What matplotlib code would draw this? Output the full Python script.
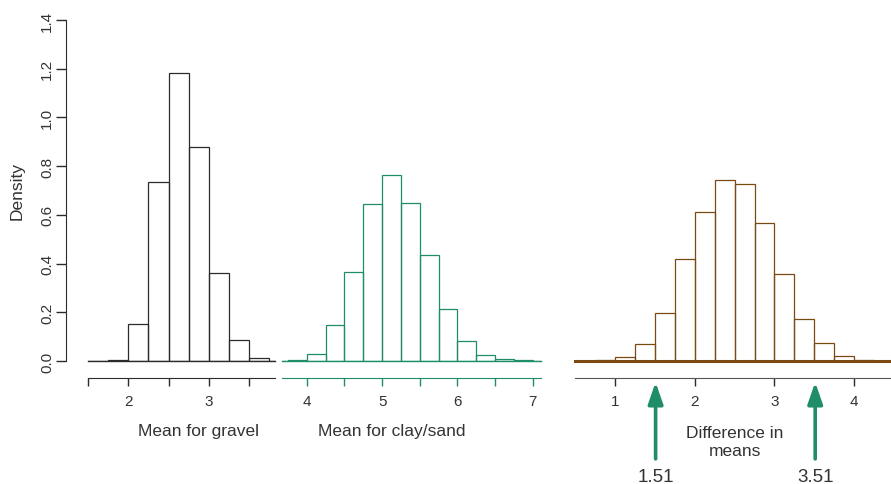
import matplotlib
matplotlib.use("Agg")
import matplotlib.pyplot as plt
import numpy as np

plt.rcParams['font.family'] = ['Liberation Sans', 'DejaVu Sans']

# bootstrap histograms (density), bin width 0.25
bin_width = 0.25

gravel_start = 1.5
gravel_density = [0.002, 0.003, 0.151, 0.734, 1.181, 0.877, 0.363, 0.086, 0.011, 0.002]

clay_start = 3.5
clay_density = [0.001, 0.004, 0.030, 0.147, 0.364, 0.644, 0.762, 0.648, 0.434, 0.212,
                0.084, 0.026, 0.010, 0.003, 0.001]

diff_start = 0.5
diff_density = [0.001, 0.004, 0.018, 0.071, 0.196, 0.418, 0.611, 0.744, 0.727, 0.568,
                0.359, 0.174, 0.075, 0.021, 0.004, 0.001]

gravel_ticks = [1.5, 2, 2.5, 3, 3.5]
gravel_ticklabels = ['', '2', '', '3', '']
clay_ticks = [4, 4.5, 5, 5.5, 6, 6.5, 7]
clay_ticklabels = ['4', '', '5', '', '6', '', '7']
diff_ticks = [1, 2, 3, 4]
ci_bounds = [1.51, 3.51]

black = '#2b2b2b'
green = '#1f8c6a'
brown = '#7a4a12'
text_col = '#333333'

W, H = 891, 485
fig = plt.figure(figsize=(W / 100, H / 100), dpi=100)


def px_axes(x0, x1, y_top=21, y_bot=362):
    return fig.add_axes([x0 / W, (H - y_bot) / H, (x1 - x0) / W, (y_bot - y_top) / H])


ax1 = px_axes(88, 275)
ax2 = px_axes(282, 541)
ax3 = px_axes(575, 891)


def draw_hist(ax, start, dens, color, xlim, base_lw=1.0):
    dens = np.array(dens)
    left = start + bin_width * np.arange(len(dens))
    ax.bar(left, dens, width=bin_width, align='edge', fill=False,
           edgecolor=color, linewidth=0.9, clip_on=True)
    ax.axhline(0, color=color, lw=base_lw, clip_on=False, zorder=3)
    ax.set_xlim(*xlim)
    ax.set_ylim(0, 1.4)
    for s in ['top', 'right', 'left']:
        ax.spines[s].set_visible(False)
    ax.spines['bottom'].set_position(('outward', 12))
    ax.tick_params(axis='x', length=6, width=1, pad=6, labelsize=11, labelcolor=text_col)


draw_hist(ax1, gravel_start, gravel_density, black, (1.5, 3.82))
draw_hist(ax2, clay_start, clay_density, green, (3.67, 7.11))
draw_hist(ax3, diff_start, diff_density, brown, (0.5, 4.46), base_lw=2.2)

# left panel: y axis
ax1.spines['left'].set_visible(True)
ax1.spines['left'].set_position(('outward', 16))
ax1.spines['left'].set_color(black)
ax1.set_yticks(np.arange(0, 1.41, 0.2))
ax1.set_yticklabels([f'{v:.1f}' for v in np.arange(0, 1.41, 0.2)])
ax1.tick_params(axis='y', length=7, width=1, pad=1.5, labelsize=11,
                labelcolor=text_col, labelrotation=90, color=black)
for lab in ax1.get_yticklabels():
    lab.set_verticalalignment('center')
ax1.set_ylabel('Density', fontsize=12.5, color=text_col, labelpad=11)

ax1.spines['bottom'].set_color(black)
ax1.tick_params(axis='x', color=black)
ax1.set_xticks(gravel_ticks)
ax1.set_xticklabels(gravel_ticklabels)

ax2.set_yticks([])
ax2.spines['bottom'].set_color(green)
ax2.tick_params(axis='x', color=green)
ax2.set_xticks(clay_ticks)
ax2.set_xticklabels(clay_ticklabels)

ax3.set_yticks([])
ax3.spines['bottom'].set_color('#555555')
ax3.tick_params(axis='x', color=black)
ax3.set_xticks(diff_ticks)

# axis titles
ax1.text(0.59, -0.205, 'Mean for gravel', transform=ax1.transAxes,
         ha='center', va='center', fontsize=12.5, color=text_col)
ax2.text(0.425, -0.205, 'Mean for clay/sand', transform=ax2.transAxes,
         ha='center', va='center', fontsize=12.5, color=text_col)
ax3.text(2.5, -0.237, 'Difference in\nmeans', transform=ax3.get_xaxis_transform(),
         ha='center', va='center', fontsize=12.5, color=text_col, linespacing=1.25)

# arrows marking the interval bounds
for b in ci_bounds:
    ax3.annotate('', xy=(b, -0.062), xytext=(b, -0.287),
                 xycoords=ax3.get_xaxis_transform(), textcoords=ax3.get_xaxis_transform(),
                 arrowprops=dict(arrowstyle='-|>,head_length=1.3,head_width=0.45',
                                 color=green, lw=2.6, shrinkA=0, shrinkB=0),
                 annotation_clip=False)
    ax3.text(b, -0.34, f'{b:.2f}', transform=ax3.get_xaxis_transform(),
             ha='center', va='center', fontsize=13.5, color=text_col)

fig.savefig('out.png', dpi=100)
